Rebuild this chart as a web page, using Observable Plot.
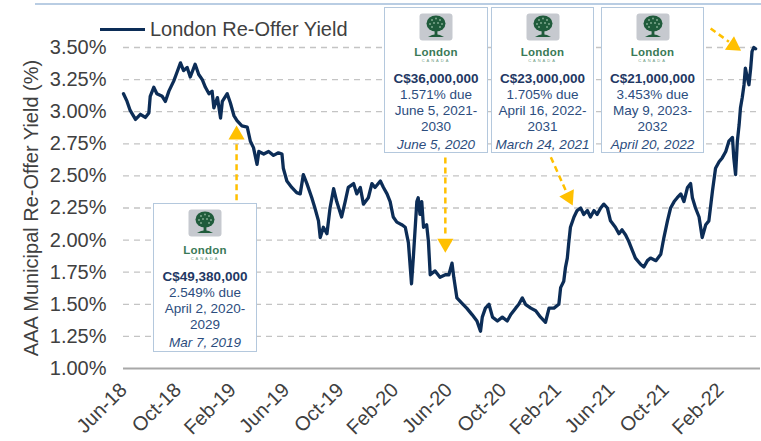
<!DOCTYPE html>
<html>
<head>
<meta charset="utf-8">
<script src="https://cdn.jsdelivr.net/npm/d3@7"></script>
<script src="https://cdn.jsdelivr.net/npm/@observablehq/plot@0.6"></script>
<style>
  html, body { margin: 0; padding: 0; background: #fff; }
  #wrap { position: relative; width: 761px; height: 441px; overflow: hidden; font-family: "Liberation Sans", Arial, sans-serif; }
  #topline { position: absolute; left: 35px; top: 3px; width: 726px; height: 2px; background: #b9cde3; }
  #legend { position: absolute; left: 100px; top: 17px; height: 24px; display: flex; align-items: center; }
  #legend .sw { width: 45px; height: 3px; background: #0c2d57; margin-right: 5px; }
  #legend .tx { font-size: 20px; color: #404040; line-height: 24px; }
  .box { position: absolute; background: #fff; border: 1px solid #b4c8dd; box-sizing: border-box; text-align: center; color: #2c4d7e; }
  .box .logo { position: absolute; left: 50%; margin-left: -17px; top: 5px; width: 34px; height: 28px; }
  .box .ldn { position: absolute; left: 0; right: 0; top: 38px; font-size: 11.5px; line-height: 12px; color: #3a7a57; font-weight: bold; letter-spacing: 0.2px; }
  .box .can { position: absolute; left: 0; right: 0; top: 50px; font-size: 4px; line-height: 5px; color: #6a9a80; letter-spacing: 2px; }
  .box .ln { position: absolute; left: 0; right: 0; font-size: 13.5px; line-height: 16px; white-space: nowrap; }
  .box .amt { font-weight: bold; color: #1f3864; }
  .box .dt { font-style: italic; color: #2c4d7e; }
</style>
</head>
<body>
<div id="wrap"></div>
<script>
// ---- data ----
const dates = [
"2018-06-01","2018-06-09","2018-06-16","2018-06-28","2018-07-09","2018-07-20","2018-07-28","2018-07-31","2018-08-08","2018-08-15",
"2018-08-27","2018-09-03","2018-09-11","2018-09-22","2018-09-29","2018-10-07","2018-10-14","2018-10-22","2018-10-29","2018-11-09",
"2018-11-17","2018-11-25","2018-12-02","2018-12-10","2018-12-17","2018-12-21","2018-12-29","2019-01-05","2019-01-09","2019-01-20",
"2019-01-27","2019-02-04","2019-02-11","2019-02-22","2019-03-06","2019-03-13","2019-03-20","2019-03-28","2019-04-01","2019-04-12",
"2019-04-23","2019-05-04","2019-05-15","2019-05-23","2019-05-26","2019-06-03","2019-06-14","2019-06-25","2019-07-03","2019-07-10",
"2019-07-18","2019-07-29","2019-08-05","2019-08-13","2019-08-17","2019-08-24","2019-09-01","2019-09-08","2019-09-16","2019-09-23",
"2019-10-04","2019-10-12","2019-10-19","2019-10-31","2019-11-07","2019-11-15","2019-11-22","2019-12-03","2019-12-11","2019-12-18",
"2019-12-30","2020-01-06","2020-01-14","2020-01-21","2020-01-28","2020-02-05","2020-02-16","2020-02-24","2020-03-02","2020-03-09",
"2020-03-13","2020-03-21","2020-03-24","2020-03-28","2020-04-01","2020-04-05","2020-04-12","2020-04-16","2020-04-20","2020-05-01",
"2020-05-12","2020-05-24","2020-06-01","2020-06-08","2020-06-12","2020-06-19","2020-06-30","2020-07-11","2020-07-23","2020-08-03",
"2020-08-11","2020-08-15","2020-08-22","2020-08-30","2020-09-07","2020-09-18","2020-09-29","2020-10-10","2020-10-18","2020-10-29",
"2020-11-05","2020-11-13","2020-11-20","2020-12-02","2020-12-13","2020-12-24","2021-01-04","2021-01-12","2021-01-23","2021-02-03",
"2021-02-07","2021-02-14","2021-02-18","2021-02-22","2021-02-25","2021-03-01","2021-03-09","2021-03-16","2021-03-24","2021-03-31",
"2021-04-08","2021-04-15","2021-04-23","2021-04-30","2021-05-08","2021-05-15","2021-05-23","2021-05-30","2021-06-10","2021-06-18",
"2021-06-25","2021-07-03","2021-07-10","2021-07-18","2021-07-25","2021-08-06","2021-08-13","2021-08-21","2021-08-28","2021-09-09",
"2021-09-20","2021-09-27","2021-10-05","2021-10-12","2021-10-20","2021-10-27","2021-11-04","2021-11-11","2021-11-19","2021-11-26",
"2021-11-30","2021-12-07","2021-12-15","2021-12-22","2021-12-30","2022-01-06","2022-01-14","2022-01-21","2022-01-29","2022-02-05",
"2022-02-13","2022-02-20","2022-02-28","2022-03-03","2022-03-07","2022-03-11","2022-03-15","2022-03-18","2022-03-22","2022-03-26",
"2022-03-29","2022-04-02","2022-04-06","2022-04-10","2022-04-13","2022-04-17","2022-04-21"
];
const yields = [
3.14,3.08,3.01,2.94,2.98,2.955,2.99,3.12,3.19,3.14,
3.12,3.08,3.16,3.24,3.305,3.38,3.32,3.345,3.27,3.37,
3.29,3.25,3.19,3.14,3.16,3.03,3.11,2.95,3.08,3.14,
3.07,2.97,2.93,2.89,2.88,2.77,2.72,2.59,2.69,2.67,
2.69,2.66,2.68,2.67,2.56,2.46,2.41,2.37,2.36,2.51,
2.44,2.33,2.25,2.15,2.02,2.10,2.05,2.25,2.40,2.30,
2.18,2.30,2.41,2.44,2.36,2.41,2.28,2.33,2.44,2.41,
2.46,2.41,2.36,2.30,2.18,2.14,2.12,2.10,1.98,1.66,
1.86,2.30,2.33,2.20,2.30,2.10,2.12,1.99,1.73,1.76,
1.71,1.73,1.73,1.82,1.71,1.55,1.51,1.47,1.42,1.37,
1.29,1.40,1.47,1.50,1.40,1.37,1.40,1.37,1.42,1.47,
1.50,1.55,1.50,1.47,1.45,1.40,1.36,1.47,1.47,1.50,
1.63,1.68,1.79,1.86,1.97,2.10,2.18,2.23,2.25,2.20,
2.23,2.18,2.23,2.20,2.25,2.28,2.25,2.15,2.10,2.05,
2.08,2.04,1.99,1.92,1.86,1.81,1.79,1.84,1.86,1.84,
1.89,2.02,2.15,2.25,2.30,2.33,2.36,2.30,2.41,2.44,
2.33,2.25,2.18,2.02,2.12,2.15,2.38,2.56,2.61,2.64,
2.69,2.77,2.80,2.64,2.51,2.77,2.90,3.03,3.11,3.21,
3.34,3.27,3.21,3.34,3.47,3.50,3.49
];
const seriesName = "London Re-Offer Yield";
const yTicks = [1.00,1.25,1.50,1.75,2.00,2.25,2.50,2.75,3.00,3.25,3.50];
const xTickDates = ["2018-06-01","2018-10-01","2019-02-01","2019-06-01","2019-10-01","2020-02-01","2020-06-01","2020-10-01","2021-02-01","2021-06-01","2021-10-01","2022-02-01"];
const xDomain = ["2018-06-01","2022-05-02"];

// annotation arrows (data coordinates)
const arrowStartDates = ["2019-02-10","2020-05-24","2021-01-16","2022-01-10"];
const arrowStartVals  = [2.31, 2.643, 2.646, 3.648];
const arrowEndDates   = ["2019-02-10","2020-05-24","2021-02-18","2022-02-20"];
const arrowEndVals    = [2.78, 2.02, 2.39, 3.545];
const headDates       = ["2019-02-10","2020-05-24","2021-02-25","2022-03-02"];
const headVals        = [2.82, 1.975, 2.335, 3.515];
const headAngles      = [0, 180, 154, 124];

// annotation boxes
const boxAmounts = ["C$49,380,000","C$36,000,000","C$23,000,000","C$21,000,000"];
const boxCoupons = ["2.549% due","1.571% due","1.705% due","3.453% due"];
const boxMatur1  = ["April 2, 2020-","June 5, 2021-","April 16, 2022-","May 9, 2023-"];
const boxMatur2  = ["2029","2030","2031","2032"];
const boxDates   = ["Mar 7, 2019","June 5, 2020","March 24, 2021","April 20, 2022"];
const boxLeft    = [153, 384, 491, 601];
const boxTop     = [203, 7, 7, 7];
const boxW       = [104, 104, 103, 103];
const boxH       = [149, 146, 146, 146];

// ---- build ----
const P = d3.utcParse("%Y-%m-%d");
const data = dates.map((d, i) => ({date: P(d), value: yields[i]}));
const arrows = arrowStartDates.map((d, i) => ({x1: P(d), y1: arrowStartVals[i], x2: P(arrowEndDates[i]), y2: arrowEndVals[i]}));
const heads = headDates.map((d, i) => ({x: P(d), y: headVals[i], a: headAngles[i]}));

const chart = Plot.plot({
  width: 761,
  height: 441,
  marginLeft: 123,
  marginRight: 1,
  marginTop: 47,
  marginBottom: 73,
  style: {fontFamily: "'Liberation Sans', Arial, sans-serif", fontSize: "20px", color: "#404040", background: "transparent"},
  x: {type: "utc", domain: xDomain.map(P)},
  y: {domain: [1, 3.5]},
  marks: [
    Plot.gridY(yTicks.filter(t => t > 1), {stroke: "#c4c4c4", strokeOpacity: 1, strokeWidth: 1.3, strokeDasharray: "6,5"}),
    Plot.ruleY([1], {stroke: "#a8a8a8", strokeWidth: 2}),
    Plot.axisY({ticks: yTicks, tickFormat: d => d.toFixed(2) + "%", tickSize: 0, tickPadding: 17,
      label: "AAA Municipal Re-Offer Yield (%)", labelAnchor: "center", labelArrow: "none", labelOffset: 100}),
    Plot.axisX({ticks: xTickDates.map(P), tickFormat: d3.utcFormat("%b-%y"), tickRotate: -45, tickSize: 0, tickPadding: 18, label: null}),
    Plot.lineY(data, {x: "date", y: "value", stroke: "#0c2d57", strokeWidth: 3.3, strokeLinejoin: "round"}),
    Plot.link(arrows, {x1: "x1", y1: "y1", x2: "x2", y2: "y2", stroke: "#ffc000", strokeWidth: 2.5, strokeDasharray: "6,4"}),
    Plot.dot(heads, {x: "x", y: "y", symbol: "triangle", r: 6, fill: "#ffc000", stroke: "none", rotate: "a"})
  ]
});

const wrapEl = document.getElementById("wrap");
wrapEl.appendChild(chart);
chart.style.position = "absolute";
chart.style.left = "0";
chart.style.top = "0";

const topLineEl = document.createElement("div"); topLineEl.id = "topline"; wrapEl.appendChild(topLineEl);

const legEl = document.createElement("div"); legEl.id = "legend";
legEl.innerHTML = `<div class="sw"></div><div class="tx">${seriesName}</div>`;
wrapEl.appendChild(legEl);

const logoSvg = `<svg width="34" height="28" viewBox="0 0 34 28">
  <rect x="0.5" y="0.5" width="33" height="27" rx="3" fill="#c6c9cf"/>
  <g fill="#1f5b3b">
    <ellipse cx="17" cy="10.5" rx="9.5" ry="8"/>
    <rect x="15.6" y="15" width="2.8" height="8"/>
    <path d="M9 24 Q17 18.5 25 24 Z"/>
  </g>
  <g fill="#7fa98f">
    <circle cx="13" cy="7" r="1"/><circle cx="17" cy="5.5" r="1"/><circle cx="21" cy="7" r="1"/>
    <circle cx="11" cy="11" r="1"/><circle cx="15" cy="10" r="1"/><circle cx="19" cy="10" r="1"/><circle cx="23" cy="11" r="1"/>
    <circle cx="13" cy="14" r="1"/><circle cx="21" cy="14" r="1"/>
  </g>
</svg>`;

boxAmounts.forEach((amt, i) => {
  const b = document.createElement("div");
  b.className = "box";
  b.style.left = boxLeft[i] + "px";
  b.style.top = boxTop[i] + "px";
  b.style.width = boxW[i] + "px";
  b.style.height = boxH[i] + "px";
  const off = i === 0 ? 2 : 0;
  b.innerHTML = `
    <div class="logo">${logoSvg}</div>
    <div class="ldn" style="top:${38 + off}px">London</div>
    <div class="can" style="top:${50 + off}px">CANADA</div>
    <div class="ln amt" style="top:${63 + off}px">${amt}</div>
    <div class="ln" style="top:${79 + off}px">${boxCoupons[i]}</div>
    <div class="ln" style="top:${95 + off}px">${boxMatur1[i]}</div>
    <div class="ln" style="top:${111 + off}px">${boxMatur2[i]}</div>
    <div class="ln dt" style="top:${129 + off}px">${boxDates[i]}</div>`;
  wrapEl.appendChild(b);
});
</script>
</body>
</html>
